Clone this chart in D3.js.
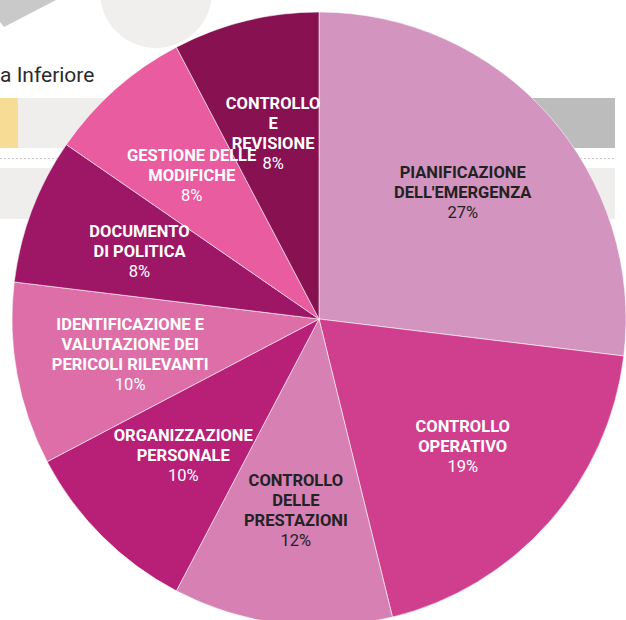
<!DOCTYPE html>
<html>
<head>
<meta charset="utf-8">
<script src="https://cdn.jsdelivr.net/npm/d3@7"></script>
<style>
  html, body { margin: 0; padding: 0; background: #ffffff; }
  svg { display: block; font-family: Roboto, "Noto Sans", sans-serif; }
</style>
</head>
<body>
<svg id="chart" width="626" height="620"></svg>
<script>
// ---- data ----
const categories = [
  "PIANIFICAZIONE DELL'EMERGENZA",
  "CONTROLLO OPERATIVO",
  "CONTROLLO DELLE PRESTAZIONI",
  "ORGANIZZAZIONE PERSONALE",
  "IDENTIFICAZIONE E VALUTAZIONE DEI PERICOLI RILEVANTI",
  "DOCUMENTO DI POLITICA",
  "GESTIONE DELLE MODIFICHE",
  "CONTROLLO E REVISIONE"
];
const labelLines = [
  ["PIANIFICAZIONE", "DELL'EMERGENZA"],
  ["CONTROLLO", "OPERATIVO"],
  ["CONTROLLO", "DELLE", "PRESTAZIONI"],
  ["ORGANIZZAZIONE", "PERSONALE"],
  ["IDENTIFICAZIONE E", "VALUTAZIONE DEI", "PERICOLI RILEVANTI"],
  ["DOCUMENTO", "DI POLITICA"],
  ["GESTIONE DELLE", "MODIFICHE"],
  ["CONTROLLO", "E", "REVISIONE"]
];
const values = [14, 10, 6, 5, 5, 4, 4, 4];
const colors = ["#d395c0", "#cf3f8e", "#d680b4", "#b81f77", "#de6ea8", "#9e1766", "#e95ca0", "#881152"];
const textColors = ["#222222", "#ffffff", "#222222", "#ffffff", "#ffffff", "#ffffff", "#ffffff", "#ffffff"];

// ---- chart ----
const svg = d3.select("#chart");

// background page fragments (screenshot context)
const bg = svg.append("g");
bg.append("path").attr("d", "M0,0 L56,0 L4,27 L0,22 Z").attr("fill", "#c9c9c9");
bg.append("circle").attr("cx", 156).attr("cy", -8).attr("r", 56).attr("fill", "#f0efee");
bg.append("text").attr("x", 0).attr("y", 82).attr("font-size", 21).attr("fill", "#2b2b2b").text("a Inferiore");
bg.append("rect").attr("x", 0).attr("y", 98).attr("width", 615).attr("height", 50).attr("fill", "#efeeec");
bg.append("rect").attr("x", 0).attr("y", 98).attr("width", 18).attr("height", 50).attr("fill", "#f6dc94");
bg.append("rect").attr("x", 470).attr("y", 98).attr("width", 145).attr("height", 50).attr("fill", "#bcbcbc");
bg.append("line").attr("x1", 0).attr("x2", 614).attr("y1", 158.5).attr("y2", 158.5)
  .attr("stroke", "#c8c8c8").attr("stroke-width", 1).attr("stroke-dasharray", "2,2");
bg.append("rect").attr("x", 0).attr("y", 168).attr("width", 615).attr("height", 51).attr("fill", "#efeeec");

const cx = 319, cy = 319, R = 307, labelR = 192;
const g = svg.append("g").attr("transform", `translate(${cx},${cy})`);

const data = categories.map((c, i) => ({ c, i, v: values[i] }));
const total = d3.sum(values);
const pie = d3.pie().value(d => d.v).sort(null).startAngle(0).endAngle(2 * Math.PI);
const arcs = pie(data);
const arc = d3.arc().innerRadius(0).outerRadius(R);
const labelArc = d3.arc().innerRadius(labelR).outerRadius(labelR);

g.selectAll("path.slice").data(arcs).join("path")
  .attr("class", "slice")
  .attr("d", arc)
  .attr("fill", d => colors[d.data.i])
  .attr("stroke", "rgba(255,255,255,0.55)")
  .attr("stroke-width", 1);

const lh = 20;
const lbl = g.selectAll("g.lbl").data(arcs).join("g")
  .attr("class", "lbl")
  .attr("transform", d => `translate(${labelArc.centroid(d)})`);

lbl.each(function(d) {
  const lines = labelLines[d.data.i].slice();
  const pct = Math.round(d.data.v / total * 100) + "%";
  const all = lines.concat([pct]);
  const n = all.length;
  const sel = d3.select(this);
  all.forEach((t, k) => {
    sel.append("text")
      .attr("x", 0)
      .attr("y", (k - (n - 1) / 2) * lh + 6)
      .attr("text-anchor", "middle")
      .attr("font-size", 16.5)
      .attr("font-weight", k < n - 1 ? 700 : 400)
      .attr("fill", textColors[d.data.i])
      .text(t);
  });
});
</script>
</body>
</html>
